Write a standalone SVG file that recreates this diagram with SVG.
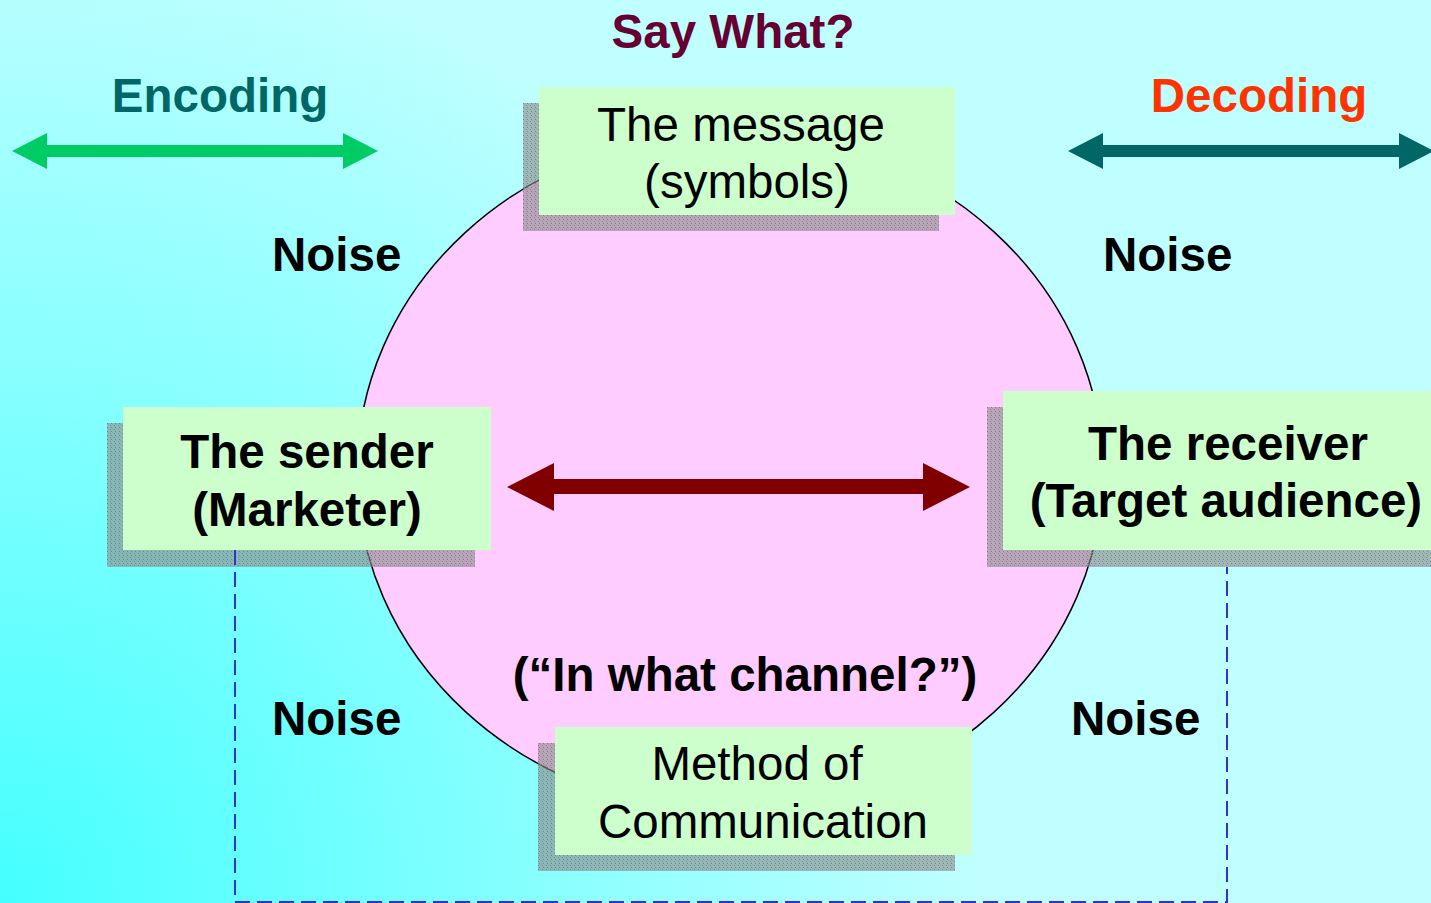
<svg xmlns="http://www.w3.org/2000/svg" width="1431" height="903" viewBox="0 0 1431 903">
<defs>
<radialGradient id="bg" cx="0" cy="903" r="1150" gradientUnits="userSpaceOnUse">
<stop offset="0" stop-color="#44FFFF"/>
<stop offset="0.85" stop-color="#BFFFFF"/>
<stop offset="1" stop-color="#BFFFFF"/>
</radialGradient>
<pattern id="shadowTex" width="4" height="4" patternUnits="userSpaceOnUse">
<rect width="4" height="4" fill="#8a8a8a" fill-opacity="0.6"/>
<rect x="0" y="0" width="1" height="1" fill="#9a9a9a" fill-opacity="0.6"/>
<rect x="2" y="1" width="1" height="1" fill="#7a7a7a" fill-opacity="0.8"/>
<rect x="3" y="3" width="1" height="1" fill="#777" fill-opacity="0.8"/>
</pattern>
</defs>
<style>
.lbl{font-family:"Liberation Sans",Arial,sans-serif;font-weight:bold;font-size:47.5px;text-anchor:middle}
.box{fill:#CCFFCC}
.shadow{fill:url(#shadowTex)}
.reg{font-family:"Liberation Sans",Arial,sans-serif;font-size:47.5px;text-anchor:middle;fill:#000}
.bold{font-family:"Liberation Sans",Arial,sans-serif;font-weight:bold;font-size:47.5px;text-anchor:middle;fill:#000}
.noise{font-family:"Liberation Sans",Arial,sans-serif;font-weight:bold;font-size:47.5px;fill:#000}
</style>
<rect width="1431" height="903" fill="url(#bg)"/>
<ellipse cx="730" cy="472" rx="373" ry="340" fill="#FFCCFF" stroke="#000" stroke-width="1.5"/>

<g id="labels">
<text class="lbl" x="733" y="48" fill="#660033">Say What?</text>
<text class="lbl" x="220" y="112" fill="#006666">Encoding</text>
<text class="lbl" x="1259" y="112" fill="#FF3300">Decoding</text>
<text class="noise" x="272" y="271">Noise</text>
<text class="noise" x="1103" y="271">Noise</text>
<text class="noise" x="272" y="735">Noise</text>
<text class="noise" x="1071" y="735">Noise</text>
<text class="bold" x="745" y="691">(“In what channel?”)</text>
</g>

<g id="shadows">
<rect class="shadow" x="523" y="103" width="416" height="128"/>
<rect class="shadow" x="107" y="423" width="368" height="144"/>
<rect class="shadow" x="987" y="407" width="444" height="160"/>
<rect class="shadow" x="538" y="743" width="417" height="128"/>
</g>

<g id="connectors">
<path d="M235,550 V902 H1227 V567" fill="none" stroke="#3333CC" stroke-width="2" stroke-dasharray="15 7"/>
<polygon fill="#00CC66" points="12,151 47,133 47,145 343,145 343,133 378,151 343,169 343,157 47,157 47,169"/>
<polygon fill="#006666" points="1068,151 1103,133 1103,145 1399,145 1399,133 1434,151 1399,169 1399,157 1103,157 1103,169"/>
<polygon fill="#800000" points="507,487 554,463 554,479 923,479 923,463 970,487 923,511 923,494 554,494 554,511"/>
</g>

<g id="message">
<rect class="box" x="539" y="87" width="416" height="128"/>
<text class="reg" x="741" y="141">The message</text>
<text class="reg" x="747" y="198">(symbols)</text>
</g>

<g id="sender">
<rect class="box" x="123" y="407" width="368" height="143"/>
<text class="bold" x="307" y="468">The sender</text>
<text class="bold" x="307" y="526">(Marketer)</text>
</g>

<g id="receiver">
<rect class="box" x="1003" y="391" width="428" height="159"/>
<text class="bold" x="1228" y="460">The receiver</text>
<text class="bold" x="1226" y="517">(Target audience)</text>
</g>

<g id="method">
<rect class="box" x="555" y="727" width="417" height="128"/>
<text class="reg" x="757" y="780">Method of</text>
<text class="reg" x="763" y="838">Communication</text>
</g>
</svg>
